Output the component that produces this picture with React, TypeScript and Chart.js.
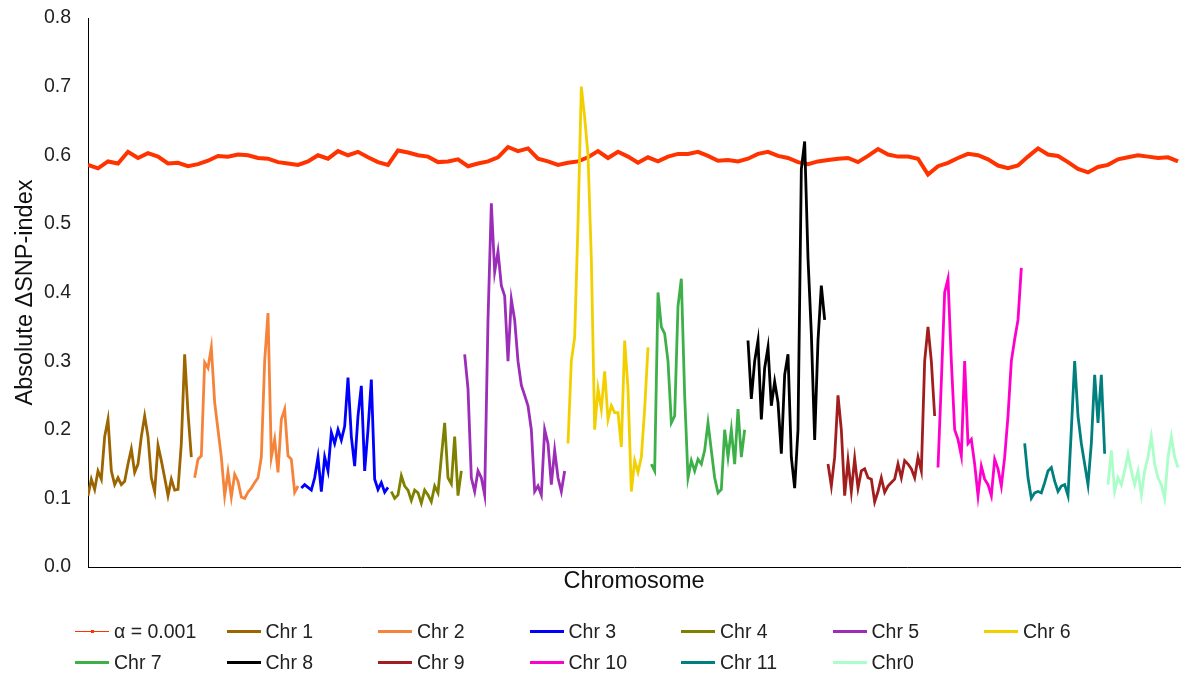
import React, { useEffect, useRef } from "react";
import { Chart, registerables } from "chart.js";

Chart.register(...registerables);

const FONT = "'Liberation Sans', Arial, Helvetica, sans-serif";

const thresholdLabel = "α = 0.001";
const threshold = [
  0.586, 0.581, 0.591, 0.588, 0.605, 0.596, 0.603, 0.598, 0.588, 0.589,
  0.584, 0.587, 0.592, 0.599, 0.598, 0.601, 0.6, 0.596, 0.595, 0.59,
  0.588, 0.586, 0.591, 0.6, 0.595, 0.606, 0.6, 0.605, 0.597, 0.59,
  0.586, 0.607, 0.604, 0.6, 0.598, 0.59, 0.591, 0.594, 0.584, 0.588,
  0.591, 0.597, 0.612, 0.606, 0.61, 0.595, 0.591, 0.586, 0.589, 0.591,
  0.597, 0.606, 0.596, 0.605, 0.598, 0.589, 0.597, 0.591, 0.598, 0.602,
  0.602, 0.605, 0.599, 0.592, 0.593, 0.591, 0.595, 0.602, 0.605, 0.599,
  0.596, 0.59, 0.587, 0.591, 0.593, 0.595, 0.596, 0.59, 0.599, 0.609,
  0.601, 0.598, 0.598, 0.595, 0.572, 0.584, 0.589, 0.596, 0.602, 0.6,
  0.594, 0.585, 0.581, 0.585, 0.598, 0.61, 0.601, 0.599, 0.59, 0.58,
  0.575, 0.583, 0.586, 0.594, 0.597, 0.6, 0.598, 0.596, 0.597, 0.591,
];

const chr1 = [0.104, 0.128, 0.113, 0.14, 0.128, 0.19, 0.215, 0.14, 0.12, 0.13, 0.12, 0.125, 0.15, 0.172, 0.138, 0.15, 0.19, 0.22, 0.19, 0.13, 0.11, 0.177, 0.155, 0.13, 0.104, 0.128, 0.112, 0.113, 0.18, 0.31, 0.225, 0.16];
const chr2 = [0.13, 0.157, 0.162, 0.298, 0.29, 0.32, 0.24, 0.2, 0.16, 0.104, 0.138, 0.102, 0.135, 0.125, 0.102, 0.1, 0.109, 0.115, 0.123, 0.13, 0.16, 0.3, 0.37, 0.16, 0.186, 0.138, 0.215, 0.23, 0.162, 0.157, 0.109, 0.118];
const chr3 = [0.115, 0.12, 0.116, 0.112, 0.13, 0.16, 0.11, 0.16, 0.14, 0.196, 0.18, 0.2, 0.185, 0.205, 0.276, 0.19, 0.147, 0.22, 0.264, 0.14, 0.2, 0.273, 0.128, 0.113, 0.123, 0.109, 0.116];
const chr4 = [0.11, 0.1, 0.105, 0.133, 0.118, 0.112, 0.097, 0.112, 0.108, 0.093, 0.112, 0.105, 0.095, 0.118, 0.108, 0.16, 0.21, 0.13, 0.121, 0.19, 0.104, 0.14];
const chr5 = [0.31, 0.26, 0.13, 0.11, 0.14, 0.13, 0.105, 0.36, 0.53, 0.43, 0.46, 0.41, 0.395, 0.3, 0.39, 0.36, 0.3, 0.265, 0.25, 0.235, 0.2, 0.11, 0.118, 0.105, 0.2, 0.18, 0.12, 0.17, 0.13, 0.11, 0.14];
const chr6 = [0.18, 0.3, 0.335, 0.5, 0.7, 0.655, 0.6, 0.45, 0.2, 0.26, 0.23, 0.285, 0.215, 0.235, 0.225, 0.225, 0.175, 0.33, 0.26, 0.11, 0.155, 0.138, 0.16, 0.23, 0.32];
const chr7 = [0.15, 0.14, 0.4, 0.35, 0.34, 0.3, 0.21, 0.22, 0.38, 0.42, 0.25, 0.13, 0.155, 0.14, 0.157, 0.15, 0.17, 0.21, 0.17, 0.13, 0.108, 0.113, 0.2, 0.16, 0.2, 0.15, 0.23, 0.16, 0.2];
const chr8 = [0.33, 0.245, 0.3, 0.33, 0.215, 0.29, 0.32, 0.235, 0.27, 0.24, 0.165, 0.28, 0.31, 0.16, 0.115, 0.2, 0.58, 0.62, 0.45, 0.34, 0.185, 0.33, 0.41, 0.36];
const chr9 = [0.15, 0.118, 0.16, 0.25, 0.2, 0.104, 0.155, 0.11, 0.158, 0.115, 0.14, 0.143, 0.13, 0.128, 0.095, 0.11, 0.13, 0.109, 0.118, 0.123, 0.128, 0.15, 0.13, 0.155, 0.15, 0.143, 0.13, 0.16, 0.14, 0.3, 0.35, 0.3, 0.22];
const chr10 = [0.145, 0.27, 0.4, 0.42, 0.3, 0.2, 0.186, 0.162, 0.3, 0.18, 0.186, 0.15, 0.104, 0.147, 0.128, 0.12, 0.104, 0.157, 0.143, 0.118, 0.16, 0.22, 0.3, 0.332, 0.36, 0.436];
const chr11 = [0.18, 0.13, 0.1, 0.108, 0.11, 0.108, 0.123, 0.14, 0.145, 0.125, 0.11, 0.118, 0.12, 0.104, 0.2, 0.3, 0.22, 0.18, 0.15, 0.12, 0.18, 0.28, 0.21, 0.28, 0.165];
const chr0 = [0.12, 0.17, 0.11, 0.13, 0.12, 0.14, 0.165, 0.14, 0.12, 0.14, 0.105, 0.14, 0.16, 0.19, 0.15, 0.13, 0.12, 0.1, 0.16, 0.19, 0.16, 0.145];

const chromosomeNames = ["Chr 1", "Chr 2", "Chr 3", "Chr 4", "Chr 5", "Chr 6", "Chr 7", "Chr 8", "Chr 9", "Chr 10", "Chr 11", "Chr0"];
const chromosomeValues = [chr1, chr2, chr3, chr4, chr5, chr6, chr7, chr8, chr9, chr10, chr11, chr0];
const chromosomeColors = ["#9C6500", "#F5843A", "#0000FF", "#808000", "#9B2DB8", "#F2D000", "#3DB049", "#000000", "#A21E1E", "#FF00CC", "#007F7F", "#AAFFC8"];
const thresholdColor = "#FF3300";

const yTickValues = [0, 0.1, 0.2, 0.3, 0.4, 0.5, 0.6, 0.7, 0.8];
const yTitle = "Absolute ΔSNP-index";
const xTitle = "Chromosome";

export default function App() {
  const canvasRef = useRef<HTMLCanvasElement | null>(null);

  useEffect(() => {
    const canvas = canvasRef.current;
    if (!canvas) return;
    let offset = 0;
    const chrSets = chromosomeValues.map((vals, k) => {
      const data = vals.map((v, i) => ({ x: offset + i, y: v }));
      offset += vals.length;
      return {
        label: chromosomeNames[k],
        data,
        borderColor: chromosomeColors[k],
        backgroundColor: chromosomeColors[k],
        borderWidth: 2.8,
        pointRadius: 0,
        tension: 0,
        order: 0,
      };
    });
    const total = offset;
    const thrData = threshold.map((v, i) => ({ x: (i * (total - 1)) / (threshold.length - 1), y: v }));

    const chart = new Chart(canvas, {
      type: "line",
      data: {
        datasets: [
          {
            label: thresholdLabel,
            data: thrData,
            borderColor: thresholdColor,
            backgroundColor: thresholdColor,
            borderWidth: 4,
            pointRadius: 0,
            tension: 0,
            order: 1,
          },
          ...chrSets,
        ] as any,
      },
      options: {
        animation: false,
        responsive: false,
        devicePixelRatio: 1,
        layout: { padding: { left: 0, right: 15, top: 18, bottom: 79 } },
        plugins: { legend: { display: false }, tooltip: { enabled: false } },
        scales: {
          x: {
            type: "linear",
            min: 0,
            max: total - 0.4,
            grid: { display: false, drawTicks: false },
            border: { display: true, color: "#000", width: 1 },
            ticks: { display: false },
            title: { display: true, text: xTitle, color: "#111", font: { family: FONT, size: 23.5 }, padding: { top: 0, bottom: 0 } },
            afterFit: (s: any) => { s.height = 29; s.paddingLeft = 0; s.paddingRight = 0; },
          },
          y: {
            type: "linear",
            min: 0,
            max: 0.8,
            grid: { display: false, drawTicks: false },
            border: { display: true, color: "#000", width: 1 },
            afterBuildTicks: (s: any) => { s.ticks = yTickValues.map((v) => ({ value: v })); },
            ticks: {
              padding: 17,
              color: "#222",
              font: { family: FONT, size: 19.5 },
              callback: (v: any) => Number(v).toFixed(1),
            },
            title: { display: true, text: yTitle, color: "#111", font: { family: FONT, size: 23.5 }, padding: { top: 11, bottom: 0 } },
            afterFit: (s: any) => { s.width = 88; s.paddingTop = 0; s.paddingBottom = 0; },
          },
        },
      } as any,
    });
    return () => chart.destroy();
  }, []);

  const legendItems = [
    { label: thresholdLabel, color: thresholdColor, marker: true },
    ...chromosomeNames.map((n, k) => ({ label: n, color: chromosomeColors[k], marker: false })),
  ];

  return (
    <div style={{ position: "absolute", left: 0, top: 0, width: 1195, height: 675, background: "#fff", overflow: "hidden" }}>
      <canvas ref={canvasRef} width={1195} height={675} style={{ display: "block", width: 1195, height: 675 }} />
      {legendItems.map((it, i) => {
        const row = i < 7 ? 0 : 1;
        const col = i % 7;
        const left = 75 + col * 151.5;
        const top = row === 0 ? 631 : 662;
        return (
          <div key={it.label} style={{ position: "absolute", left, top: top - 12, height: 24, display: "flex", alignItems: "center", fontFamily: FONT, fontSize: 19.5, color: "#222", whiteSpace: "nowrap" }}>
            <div style={{ position: "relative", width: 34, height: 24, marginRight: 5 }}>
              <div style={{ position: "absolute", left: 0, right: 0, top: it.marker ? 11.5 : 10.5, height: it.marker ? 1.5 : 3, background: it.color }} />
              {it.marker && <div style={{ position: "absolute", left: 15.5, top: 10.5, width: 3.5, height: 3.5, background: it.color }} />}
            </div>
            <span>{it.label}</span>
          </div>
        );
      })}
    </div>
  );
}
